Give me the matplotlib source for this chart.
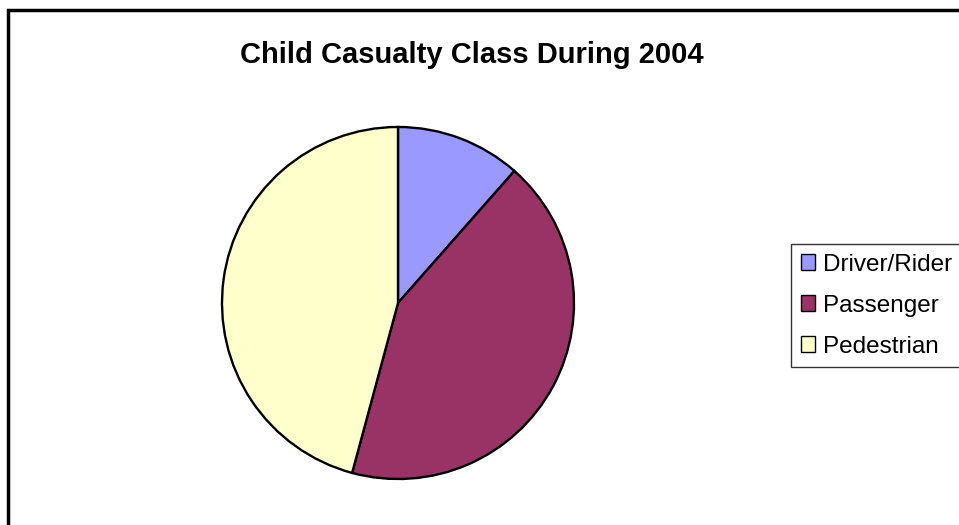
import matplotlib
matplotlib.use("Agg")
import matplotlib.pyplot as plt
from matplotlib.patches import Rectangle, Patch

plt.rcParams["font.family"] = ["Liberation Sans", "DejaVu Sans"]

# casualty class shares (%)
classes = ["Driver/Rider", "Passenger", "Pedestrian"]
shares = [11.5, 42.7, 45.8]
colours = ["#9999FF", "#993366", "#FFFFCC"]

W, H = 959, 525
fig = plt.figure(figsize=(W / 100, H / 100), dpi=100)
fig.patch.set_facecolor("white")

# chart area frame (runs off the right/bottom edge)
fig.patches.append(Rectangle((8 / W, -0.05), 1.2, (H - 10) / H + 0.05,
                             transform=fig.transFigure, fill=False,
                             edgecolor="black", linewidth=2.5))

fig.text(472 / W, 1 - 55 / H, "Child Casualty Class During 2004",
         ha="center", va="center", fontsize=21, fontweight="bold")

# pie centred at (398, 303), radius ~176 px
cx, cy, r = 398, 303, 176
ax = fig.add_axes([(cx - r) / W, 1 - (cy + r) / H, 2 * r / W, 2 * r / H])
ax.pie(shares, colors=colours, startangle=90, counterclock=False,
       wedgeprops=dict(edgecolor="black", linewidth=1.7))
ax.set_xlim(-1, 1)
ax.set_ylim(-1, 1)
ax.set_aspect("equal")

handles = [Patch(facecolor=c, edgecolor="black", linewidth=1.0) for c in colours]
leg = fig.legend(handles, classes, loc="upper left",
                 bbox_to_anchor=(791 / W, 1 - 244 / H),
                 fontsize=17.5, frameon=True, fancybox=False,
                 handlelength=0.6, handleheight=0.6, handletextpad=0.3,
                 labelspacing=0.78, borderpad=0.4, borderaxespad=0)
leg.get_frame().set_edgecolor("black")
leg.get_frame().set_linewidth(1.0)

fig.savefig("out.png", dpi=100)
